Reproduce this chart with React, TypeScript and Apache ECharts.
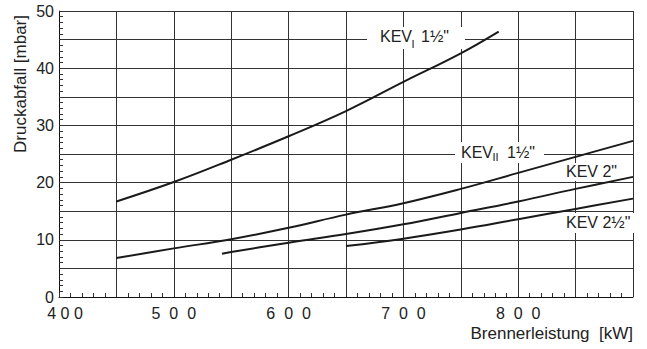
import React, { useEffect, useRef } from 'react';
import * as echarts from 'echarts';

// Brennerleistung [kW] vs Druckabfall [mbar]
const kev1X = [450, 500, 550, 600, 650, 700, 750, 783];
const kev1Y = [16.7, 20.1, 24.0, 28.1, 32.5, 37.6, 42.6, 46.4];

const kev2X = [450, 500, 550, 600, 650, 700, 750, 800, 850, 900];
const kev2Y = [6.8, 8.5, 10.1, 12.1, 14.4, 16.4, 18.9, 21.7, 24.5, 27.3];

const kev3X = [542, 550, 600, 650, 700, 750, 800, 850, 900];
const kev3Y = [7.55, 7.85, 9.5, 11.0, 12.7, 14.7, 16.7, 18.9, 21.0];

const kev4X = [650, 700, 750, 800, 850, 900];
const kev4Y = [8.9, 10.2, 11.8, 13.6, 15.4, 17.2];

const seriesNames = ['KEV I 1½"', 'KEV II 1½"', 'KEV 2"', 'KEV 2½"'];

const xTickValues = [400, 500, 600, 700, 800];
const xTickLabels = ['4 0 0', '5\u00A0\u00A00\u00A0\u00A00', '6\u00A0\u00A00\u00A0\u00A00', '7\u00A0\u00A00\u00A0\u00A00', '8\u00A0\u00A00\u00A0\u00A00'];
const yTickValues = [0, 10, 20, 30, 40, 50];
const yTickLabels = ['0', '10', '20', '30', '40', '50'];

const xAxisTitle = 'Brennerleistung\u00A0\u00A0[kW]';
const yAxisTitle = 'Druckabfall [mbar]';

const FONT = '"Liberation Sans", Arial, Helvetica, sans-serif';
const TXT = '#222';

function pairs(xs: number[], ys: number[]) {
  return xs.map((x, i) => [x, ys[i]]);
}

export default function App() {
  const ref = useRef<HTMLDivElement>(null);
  useEffect(() => {
    if (!ref.current) return;
    const chart = echarts.init(ref.current, null, { renderer: 'svg' });
    const lineStyle = { color: '#1a1a1a', width: 2 };
    const mk = (name: string, data: number[][]) => ({
      name,
      type: 'line',
      data,
      smooth: 0.4,
      showSymbol: false,
      symbol: 'none',
      lineStyle,
      z: 5,
    });
    const txt = (text: string, x: number, y: number, size = 16, align = 'left') => ({
      type: 'text',
      x,
      y,
      z: 60,
      style: { text, fill: TXT, font: `${size}px ${FONT}`, textAlign: align, verticalAlign: 'middle' },
    });
    const box = (x: number, y: number, w: number, h: number) => ({
      type: 'rect',
      z: 1,
      shape: { x, y, width: w, height: h },
      style: { fill: '#fff' },
    });
    chart.setOption({
      animation: false,
      backgroundColor: '#fff',
      textStyle: { fontFamily: FONT },
      grid: { left: 59, right: 14, top: 11, bottom: 52, containLabel: false },
      xAxis: {
        type: 'value',
        min: 400,
        max: 900,
        interval: 50,
        axisLine: { show: true, lineStyle: { color: '#111', width: 1 } },
        axisTick: { show: true, inside: true, length: 4, lineStyle: { color: '#333' } },
        minorTick: { show: true, splitNumber: 5, length: 4, lineStyle: { color: '#333' } },
        splitLine: { show: true, lineStyle: { color: '#333', width: 1 } },
        axisLabel: {
          margin: 8,
          fontSize: 16,
          fontFamily: FONT,
          color: TXT,
          showMaxLabel: false,
          formatter: (v: number) => {
            const i = xTickValues.indexOf(v);
            if (i < 0) return '';
            return i === 0 ? `{f|${xTickLabels[i]}}` : xTickLabels[i];
          },
          rich: { f: { fontSize: 16, fontFamily: FONT, color: TXT, padding: [0, 0, 0, 12] } },
        },
      },
      yAxis: {
        type: 'value',
        min: 0,
        max: 50,
        interval: 5,
        axisLine: { show: true, lineStyle: { color: '#111', width: 1 } },
        axisTick: { show: true, inside: true, length: 4, lineStyle: { color: '#333' } },
        minorTick: { show: true, splitNumber: 5, length: 4, lineStyle: { color: '#333' } },
        splitLine: { show: true, lineStyle: { color: '#333', width: 1 } },
        axisLabel: {
          margin: 5,
          fontSize: 16,
          fontFamily: FONT,
          color: TXT,
          formatter: (v: number) => {
            const i = yTickValues.indexOf(v);
            return i < 0 ? '' : yTickLabels[i];
          },
        },
      },
      series: [
        mk(seriesNames[0], pairs(kev1X, kev1Y)),
        mk(seriesNames[1], pairs(kev2X, kev2Y)),
        mk(seriesNames[2], pairs(kev3X, kev3Y)),
        mk(seriesNames[3], pairs(kev4X, kev4Y)),
      ],
      graphic: [
        box(367, 27, 98, 22),
        txt('KEV', 380, 36),
        txt('I', 411.5, 44, 11),
        txt('1½"', 421, 36),
        box(455, 142, 89, 21),
        txt('KEV', 461, 152),
        txt('II', 492.5, 157, 11),
        txt('1½"', 507, 152),
        box(562, 163, 61, 18),
        txt('KEV 2"', 566, 171.5),
        box(562, 213, 73, 20),
        txt('KEV 2½"', 566, 222),
        txt(xAxisTitle, 633, 333, 17, 'right'),
        {
          type: 'text',
          x: 20,
          y: 84,
          rotation: Math.PI / 2,
          z: 60,
          style: { text: yAxisTitle, fill: TXT, font: `17px ${FONT}`, textAlign: 'center', verticalAlign: 'middle' },
        },
      ],
    });
    return () => chart.dispose();
  }, []);
  return <div ref={ref} style={{ position: 'fixed', left: 0, top: 0, width: 647, height: 349 }} />;
}
